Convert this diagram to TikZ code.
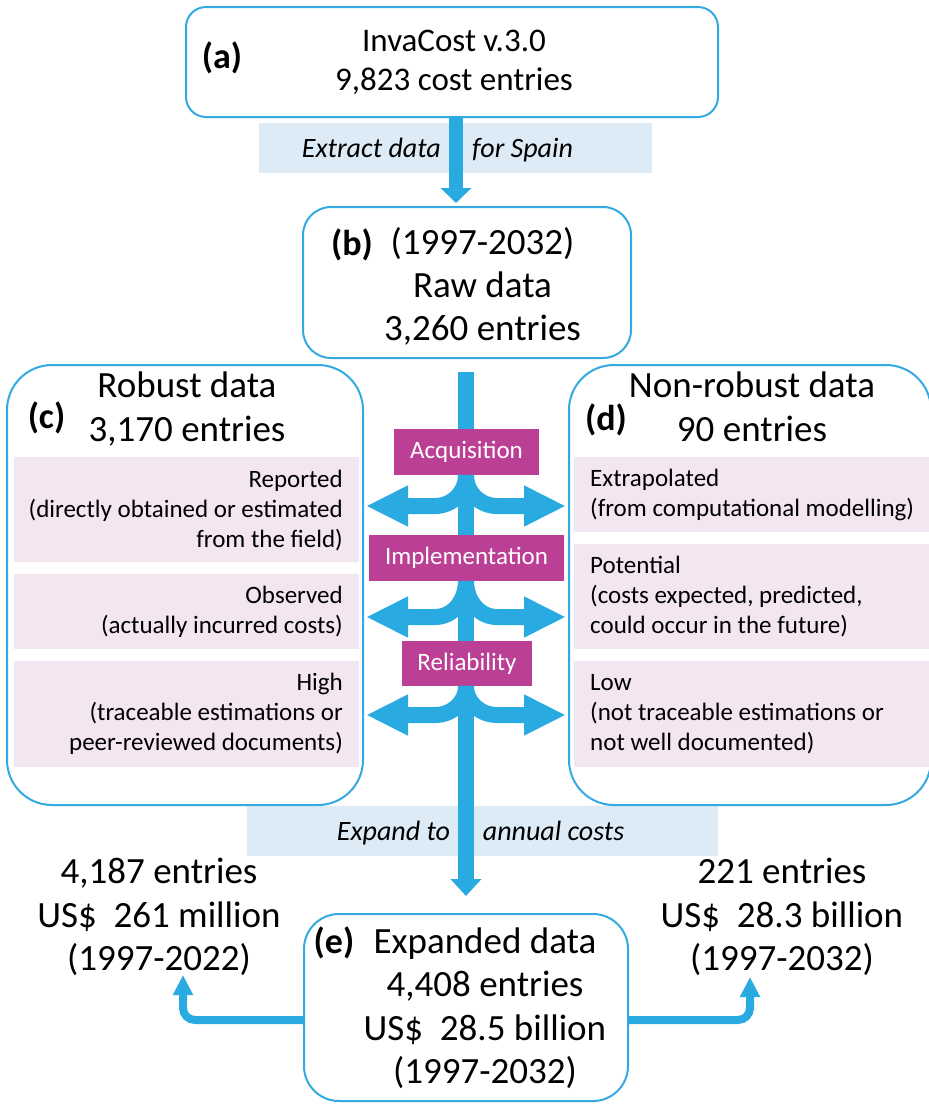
\documentclass[tikz,border=0pt]{standalone}
\usepackage{fontspec}
\setmainfont{Carlito}
\usetikzlibrary{arrows.meta}
\definecolor{arrowblue}{RGB}{41,171,226}
\definecolor{boxblue}{RGB}{52,170,225}
\definecolor{stagemag}{RGB}{187,63,148}
\definecolor{pinkfill}{RGB}{243,230,240}
\definecolor{bandblue}{RGB}{221,235,247}
\tikzset{
  roundbox/.style={draw=boxblue, line width=2pt, inner sep=0pt, outer sep=0pt, fill=white},
  bigtxt/.style={font=\fontsize{37}{44}\selectfont, inner sep=0pt, anchor=base},
  midtxt/.style={font=\fontsize{33}{39}\selectfont, inner sep=0pt, anchor=base},
  lbl/.style={font=\bfseries\fontsize{36}{44}\selectfont, inner sep=0pt, anchor=base},
  pinkbox/.style={fill=pinkfill, inner sep=0pt, outer sep=0pt},
  ptxt/.style={font=\fontsize{25}{30}\selectfont, inner sep=0pt},
  stage/.style={fill=stagemag, text=white, font=\fontsize{25}{30}\selectfont, inner sep=0pt, outer sep=0pt},
  band/.style={fill=bandblue, inner sep=0pt, outer sep=0pt},
  bandtxt/.style={font=\itshape\fontsize{28}{34}\selectfont, inner sep=0pt, anchor=base west},
  flow/.style={draw=arrowblue, line width=16pt, line cap=butt,
    -{Triangle[length=42pt 0 0,width=38pt 0 0]}},
  trunkarrow/.style={draw=arrowblue, line width=16pt, line cap=butt,
    -{Triangle[length=17pt 0 0,width=30pt 0 0]}},
  toparrow/.style={draw=arrowblue, line width=14pt, line cap=butt,
    -{Triangle[length=15pt 0 0,width=30pt 0 0]}},
  sidearrow/.style={draw=arrowblue, line width=8pt, line cap=butt, rounded corners=12pt,
    -{Triangle[length=20pt 0 0,width=19pt 0 0]}}
}
\begin{document}
\begin{tikzpicture}[x=1pt,y=-1pt]
\useasboundingbox (0,0) rectangle (929,1104);
\fill[white] (0,0) rectangle (929,1104);
\begin{scope}
\clip (0,0) rectangle (929,1104);

% helper coordinates
\coordinate (ax) at (456,0);
\coordinate (tx) at (466,0);
\coordinate (yarr) at (0,1020);
\coordinate (lt) at (183,975);
\coordinate (rt) at (750,977);

% bands
\node[band, minimum width=393pt, minimum height=50pt] (band1) at (455.5,148) {};
\node[band, minimum width=471pt, minimum height=50pt] (band2) at (482.5,831) {};
\node[bandtxt] (band1t) at (301.7,157) {\makebox[170.3pt][l]{Extract data}for Spain};
\node[bandtxt] (band2t) at (336.7,840) {\makebox[146pt][l]{Expand to}annual costs};

% boxes
\node[roundbox, rounded corners=20pt, minimum width=532pt, minimum height=110pt] (a) at (452,62) {};
\node[roundbox, rounded corners=28pt, minimum width=328pt, minimum height=151pt] (b) at (467,282.5) {};
\node[roundbox, rounded corners=45pt, minimum width=356pt, minimum height=440pt] (c) at (185,585) {};
\node[roundbox, rounded corners=45pt, minimum width=362pt, minimum height=440pt] (d) at (750,585) {};
\node[roundbox, rounded corners=35pt, minimum width=324pt, minimum height=187pt] (e) at (466,1007.5) {};

% box (a) text
\node[lbl] (la) at (222,68) {(a)};
\node[midtxt] (a1) at (454,51) {InvaCost v.3.0};
\node[midtxt] (a2) at (454,90) {9,823 cost entries};

% box (b) text
\node[lbl] (lb) at (352,255) {(b)};
\node[bigtxt] (b1) at (482.5,254) {(1997-2032)};
\node[bigtxt] (b2) at (482.5,297) {Raw data};
\node[bigtxt] (b3) at (482.5,340) {3,260 entries};

% box (c) text
\node[lbl] (lc) at (46.5,428) {(c)};
\node[bigtxt] (c1) at (187,397) {Robust data};
\node[bigtxt] (c2) at (187,441) {3,170 entries};

% box (d) text
\node[lbl] (ld) at (606,430) {(d)};
\node[bigtxt] (d1) at (752,397) {Non-robust data};
\node[bigtxt] (d2) at (752,441) {90 entries};

% pink boxes left
\node[pinkbox, minimum width=345pt, minimum height=105pt] (p1) at (186.5,509.5) {};
\node[pinkbox, minimum width=345pt, minimum height=75pt] (p2) at (186.5,611.5) {};
\node[pinkbox, minimum width=345pt, minimum height=106pt] (p3) at (186.5,714) {};
\node[ptxt, anchor=east, align=right] (p1t) at (343,511) {Reported\\(directly obtained or estimated\\from the field)};
\node[ptxt, anchor=east, align=right] (p2t) at (343,612) {Observed\\(actually incurred costs)};
\node[ptxt, anchor=east, align=right] (p3t) at (343,714) {High\\(traceable estimations or\\peer-reviewed documents)};

% pink boxes right
\node[pinkbox, minimum width=357pt, minimum height=75pt] (q1) at (752.5,494.5) {};
\node[pinkbox, minimum width=357pt, minimum height=105pt] (q2) at (752.5,596.5) {};
\node[pinkbox, minimum width=357pt, minimum height=106pt] (q3) at (752.5,714) {};
\node[ptxt, anchor=west, align=left] (q1t) at (590,495) {Extrapolated\\(from computational modelling)};
\node[ptxt, anchor=west, align=left] (q2t) at (590,597) {Potential\\(costs expected, predicted,\\could occur in the future)};
\node[ptxt, anchor=west, align=left] (q3t) at (590,714) {Low\\(not traceable estimations or\\not well documented)};

% box (e) text
\node[lbl] (le) at (334,953) {(e)};
\node[bigtxt] (e1) at (485,953) {Expanded data};
\node[bigtxt] (e2) at (485,996.5) {4,408 entries};
\node[bigtxt] (e3) at (485,1040) {US\$\ \ 28.5 billion};
\node[bigtxt] (e4) at (485,1083) {(1997-2032)};

% side results
\node[bigtxt] (l1) at (159,883) {4,187 entries};
\node[bigtxt] (l2) at (159,927) {US\$\ \ 261 million};
\node[bigtxt] (l3) at (159,970) {(1997-2022)};
\node[bigtxt] (r1) at (782,883) {221 entries};
\node[bigtxt] (r2) at (782,927) {US\$\ \ 28.3 billion};
\node[bigtxt] (r3) at (782,970) {(1997-2032)};

% arrows
\draw[toparrow, shorten >=4pt] (a.south -| ax) -- (b.north -| ax);
\draw[trunkarrow, shorten <=14pt, shorten >=18pt] (b.south -| tx) -- (e.north -| tx);

% stage labels
\node[stage, minimum width=145pt, minimum height=46pt] (acq) at (466.5,452) {Acquisition};
\node[stage, minimum width=195pt, minimum height=46pt] (imp) at (466.5,558) {Implementation};
\node[stage, minimum width=130pt, minimum height=45pt] (rel) at (467,663.5) {Reliability};

% branch arrows
\draw[flow] (acq.south -| tx) to[out=-90,in=0] ++(-31,31) -- ++(-69,0);
\draw[flow] (acq.south -| tx) to[out=-90,in=180] ++(31,31) -- ++(69,0);
\draw[flow] (imp.south -| tx) to[out=-90,in=0] ++(-31,36) -- ++(-69,0);
\draw[flow] (imp.south -| tx) to[out=-90,in=180] ++(31,36) -- ++(69,0);
\draw[flow] (rel.south -| tx) to[out=-90,in=0] ++(-31,29) -- ++(-69,0);
\draw[flow] (rel.south -| tx) to[out=-90,in=180] ++(31,29) -- ++(69,0);

% bottom split arrows
\draw[sidearrow] (e.west |- yarr) -| (lt);
\draw[sidearrow] (e.east |- yarr) -| (rt);
\end{scope}
\end{tikzpicture}
\end{document}
